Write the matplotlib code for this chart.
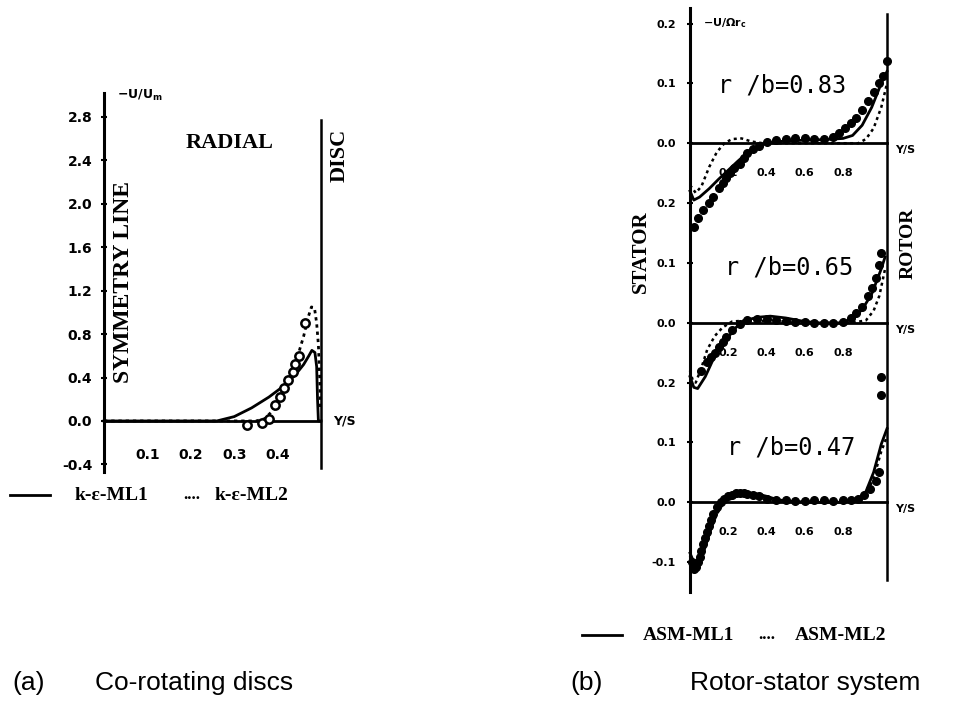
import matplotlib
matplotlib.use("Agg")
import matplotlib.pyplot as plt
from matplotlib.lines import Line2D

# ---- (a) co-rotating discs ----
a_yticks = [-0.4, 0.0, 0.4, 0.8, 1.2, 1.6, 2.0, 2.4, 2.8]
a_ylabels = ["-0.4", "0.0", "0.4", "0.8", "1.2", "1.6", "2.0", "2.4", "2.8"]
a_xticks = [0.1, 0.2, 0.3, 0.4]
a_xlabels = ["0.1", "0.2", "0.3", "0.4"]

a_ml1_x = [0, 0.1, 0.2, 0.26, 0.3, 0.34, 0.38, 0.41, 0.44, 0.46, 0.472, 0.479, 0.486, 0.49, 0.492, 0.494, 0.5]
a_ml1_y = [0, 0, 0, 0.0, 0.04, 0.12, 0.22, 0.31, 0.42, 0.52, 0.6, 0.65, 0.63, 0.5, 0.2, 0.0, 0.0]
a_ml2_x = [0, 0.3, 0.35, 0.37, 0.39, 0.41, 0.43, 0.445, 0.46, 0.47, 0.478, 0.485, 0.49, 0.494, 0.497, 0.499]
a_ml2_y = [0, 0, 0.0, 0.02, 0.1, 0.24, 0.42, 0.58, 0.78, 0.95, 1.05, 1.04, 0.9, 0.7, 0.4, 0.1]
a_exp_x = [0.33, 0.365, 0.38, 0.395, 0.405, 0.415, 0.425, 0.435, 0.44, 0.45, 0.463]
a_exp_y = [-0.04, -0.02, 0.02, 0.15, 0.22, 0.3, 0.38, 0.45, 0.52, 0.6, 0.9]

# ---- (b) rotor-stator system ----
b_radii = ["0.83", "0.65", "0.47"]
b_offsets = [0.6, 0.3, 0.0]
b_yticks = [0.8, 0.7, 0.6, 0.5, 0.4, 0.3, 0.2, 0.1, 0.0, -0.1]
b_ylabels = ["0.2", "0.1", "0.0", "0.2", "0.1", "0.0", "0.2", "0.1", "0.0", "-0.1"]
b_xticks = [0.2, 0.4, 0.6, 0.8]
b_xlabels = ["0.2", "0.4", "0.6", "0.8"]

s83_x = [0, 0.02, 0.05, 0.1, 0.15, 0.2, 0.25, 0.3, 0.35, 0.4, 0.5, 0.6, 0.7, 0.8, 0.85, 0.9, 0.95, 1.0, 1.03]
s83_y = [-0.08, -0.095, -0.09, -0.076, -0.06, -0.045, -0.03, -0.016, -0.006, 0.0, 0.004, 0.005, 0.006, 0.008, 0.013, 0.03, 0.06, 0.1, 0.12]
d83_x = [0, 0.03, 0.06, 0.1, 0.14, 0.18, 0.22, 0.27, 0.32, 0.38, 0.5, 0.7, 0.88, 0.92, 0.96, 1.0, 1.03]
d83_y = [-0.07, -0.083, -0.072, -0.04, -0.015, 0.0, 0.007, 0.008, 0.003, 0.0, 0.0, 0.0, 0.0, 0.007, 0.025, 0.06, 0.1]
p83_x = [0.02, 0.04, 0.07, 0.1, 0.12, 0.15, 0.17, 0.19, 0.21, 0.23, 0.26, 0.28, 0.3, 0.33, 0.36, 0.4, 0.45, 0.5,
         0.55, 0.6, 0.65, 0.7, 0.75, 0.78, 0.81, 0.84, 0.87, 0.9, 0.93, 0.96, 0.99, 1.01, 1.03]
p83_y = [-0.14, -0.125, -0.112, -0.1, -0.09, -0.075, -0.066, -0.058, -0.05, -0.042, -0.034, -0.024, -0.016, -0.01,
         -0.004, 0.002, 0.005, 0.007, 0.008, 0.008, 0.007, 0.007, 0.01, 0.017, 0.025, 0.033, 0.042, 0.055, 0.07,
         0.085, 0.1, 0.113, 0.138]

s65_x = [0, 0.02, 0.04, 0.08, 0.12, 0.16, 0.2, 0.24, 0.28, 0.35, 0.42, 0.5, 0.6, 0.7, 0.8, 0.86, 0.9, 0.95, 1.0, 1.02]
s65_y = [-0.09, -0.108, -0.11, -0.09, -0.062, -0.04, -0.024, -0.008, 0.003, 0.009, 0.011, 0.008, 0.002, -0.001, 0.0,
         0.01, 0.022, 0.048, 0.09, 0.11]
d65_x = [0, 0.015, 0.03, 0.06, 0.09, 0.13, 0.17, 0.22, 0.3, 0.4, 0.5, 0.7, 0.85, 0.92, 0.96, 0.99, 1.02]
d65_y = [-0.08, -0.097, -0.1, -0.075, -0.045, -0.022, -0.008, 0.002, 0.004, 0.003, 0.002, 0.0, 0.0, 0.004, 0.02,
         0.045, 0.09]
p65_x = [0.06, 0.09, 0.11, 0.13, 0.15, 0.17, 0.19, 0.22, 0.26, 0.3, 0.35, 0.4, 0.45, 0.5, 0.55, 0.6, 0.65, 0.7,
         0.75, 0.8, 0.84, 0.87, 0.9, 0.93, 0.95, 0.97, 0.99, 1.0]
p65_y = [-0.08, -0.066, -0.058, -0.05, -0.04, -0.032, -0.024, -0.012, -0.002, 0.004, 0.006, 0.006, 0.004, 0.003,
         0.002, 0.001, 0.0, 0.0, 0.0, 0.002, 0.008, 0.016, 0.026, 0.045, 0.058, 0.075, 0.097, 0.117]

s47_x = [0, 0.02, 0.04, 0.07, 0.1, 0.13, 0.16, 0.2, 0.25, 0.3, 0.35, 0.4, 0.45, 0.5, 0.6, 0.7, 0.8, 0.88, 0.92,
         0.96, 1.0, 1.03]
s47_y = [-0.085, -0.1, -0.098, -0.075, -0.045, -0.02, -0.003, 0.008, 0.014, 0.016, 0.014, 0.01, 0.005, 0.002, 0.0,
         0.0, 0.0, 0.005, 0.018, 0.05, 0.097, 0.123]
d47_x = [0, 0.02, 0.05, 0.08, 0.11, 0.14, 0.17, 0.22, 0.28, 0.34, 0.4, 0.5, 0.7, 0.86, 0.92, 0.96, 1.0, 1.03]
d47_y = [-0.09, -0.108, -0.102, -0.075, -0.045, -0.02, -0.004, 0.007, 0.013, 0.012, 0.008, 0.002, 0.0, 0.002,
         0.012, 0.04, 0.085, 0.11]
p47_x = [0.01, 0.02, 0.03, 0.04, 0.05, 0.06, 0.07, 0.08, 0.09, 0.1, 0.11, 0.12, 0.14, 0.16, 0.18, 0.2, 0.22, 0.24,
         0.26, 0.28, 0.3, 0.33, 0.36, 0.4, 0.45, 0.5, 0.55, 0.6, 0.65, 0.7, 0.75, 0.8, 0.84, 0.88, 0.91, 0.94,
         0.97, 0.99, 1.0, 1.0]
p47_y = [-0.1, -0.112, -0.108, -0.1, -0.092, -0.082, -0.07, -0.06, -0.05, -0.04, -0.03, -0.02, -0.008, 0.0, 0.006,
         0.01, 0.012, 0.015, 0.016, 0.015, 0.013, 0.012, 0.01, 0.006, 0.004, 0.003, 0.002, 0.002, 0.003, 0.003,
         0.002, 0.003, 0.004, 0.006, 0.012, 0.022, 0.035, 0.05, 0.18, 0.21]

b_solid = [(s83_x, s83_y), (s65_x, s65_y), (s47_x, s47_y)]
b_dot = [(d83_x, d83_y), (d65_x, d65_y), (d47_x, d47_y)]
b_exp = [(p83_x, p83_y), (p65_x, p65_y), (p47_x, p47_y)]

serif = "Liberation Serif"
dotted = (0, (1.2, 1.4))

fig = plt.figure(figsize=(9.64, 7.16), dpi=100)

# ----- panel (a) -----
ax = fig.add_axes([104 / 964, 1 - 472 / 716, 217 / 964, 379 / 716])
ax.set_xlim(0, 0.5)
ax.set_ylim(-0.47, 3.02)
for s in ["top", "right", "bottom"]:
    ax.spines[s].set_visible(False)
ax.spines["left"].set_linewidth(2.2)
ax.set_xticks([])
ax.set_yticks(a_yticks)
ax.set_yticklabels(a_ylabels, fontsize=10, fontweight="bold")
ax.tick_params(axis="y", direction="inout", length=5, width=1.5, pad=6)

ax.plot([0, 0.5], [0, 0], color="black", lw=2.0)
ax.plot([0.5, 0.5], [-0.43, 2.77], color="black", lw=1.8, clip_on=False)
ax.plot(a_ml1_x, a_ml1_y, color="black", lw=2.0, clip_on=False)
ax.plot(a_ml2_x, a_ml2_y, color="black", lw=2.0, ls=dotted, clip_on=False)
ax.plot(a_exp_x, a_exp_y, ls="none", marker="o", ms=6, mfc="white", mec="black", mew=1.8)

for xv, lab in zip(a_xticks, a_xlabels):
    ax.text(xv, -0.31, lab, ha="center", va="center", fontsize=10, fontweight="bold")
ax.text(0.528, 0.0, "Y/S", ha="left", va="center", fontsize=9, fontweight="bold", clip_on=False)
ax.text(0.03, 3.0, r"$\mathbf{-U/U_m}$", ha="left", va="center", fontsize=9)
ax.text(0.29, 2.56, "RADIAL", ha="center", va="center", fontsize=16, fontweight="bold", family=serif)
ax.text(0.044, 1.28, "SYMMETRY LINE", rotation=90, ha="center", va="center", fontsize=17,
        fontweight="bold", family=serif)
ax.text(0.544, 2.45, "DISC", rotation=90, ha="center", va="center", fontsize=16,
        fontweight="bold", family=serif, clip_on=False)

# ----- panel (b) -----
bx = fig.add_axes([690 / 964, 1 - 592 / 716, 197 / 964, 584 / 716])
bx.set_xlim(0, 1.03)
bx.set_ylim(-0.150, 0.826)
for s in ["top", "right", "bottom"]:
    bx.spines[s].set_visible(False)
bx.spines["left"].set_linewidth(2.2)
bx.set_xticks([])
bx.set_yticks(b_yticks)
bx.set_yticklabels(b_ylabels, fontsize=8, fontweight="bold")
bx.tick_params(axis="y", direction="inout", length=4, width=1.5, pad=8)

bx.plot([1.03, 1.03], [-0.130, 0.816], color="black", lw=1.8, clip_on=False)
for off, rad, (sx, sy), (dx, dy), (px, py) in zip(b_offsets, b_radii, b_solid, b_dot, b_exp):
    bx.plot([0, 1.03], [off, off], color="black", lw=2.0, clip_on=False)
    bx.plot(sx, [v + off for v in sy], color="black", lw=2.0, clip_on=False)
    bx.plot(dx, [v + off for v in dy], color="black", lw=1.8, ls=dotted, clip_on=False)
    bx.plot(px, [v + off for v in py], ls="none", marker="o", ms=5.5, color="black", clip_on=False)
    for xv, lab in zip(b_xticks, b_xlabels):
        bx.text(xv, off - 0.05, lab, ha="center", va="center", fontsize=8, fontweight="bold")
    bx.text(1.07, off - 0.012, "Y/S", ha="left", va="center", fontsize=8, fontweight="bold", clip_on=False)

rb_font = dict(ha="center", va="center", fontsize=17, family="DejaVu Sans Mono")
bx.text(0.48, 0.697, "r /b=0.83", **rb_font)
bx.text(0.52, 0.393, "r /b=0.65", **rb_font)
bx.text(0.53, 0.092, "r /b=0.47", **rb_font)
bx.text(0.07, 0.80, r"$\mathbf{-U/\Omega r_c}$", ha="left", va="center", fontsize=8)
bx.text(-0.256, 0.418, "STATOR", rotation=90, ha="center", va="center", fontsize=15,
        fontweight="bold", family=serif, clip_on=False)
bx.text(1.14, 0.433, "ROTOR", rotation=90, ha="center", va="center", fontsize=14,
        fontweight="bold", family=serif, clip_on=False)

# ----- legends -----
def legend_row(y_px, x_line, x_t1, x_dots, x_t2, lab1, lab2):
    yf = 1 - y_px / 716
    fig.add_artist(Line2D([x_line[0] / 964, x_line[1] / 964], [yf, yf], color="black", lw=2.0))
    fig.text(x_t1 / 964, yf, lab1, ha="left", va="center", fontsize=14, fontweight="bold", family=serif)
    fig.text(x_dots / 964, yf, "....", ha="left", va="center", fontsize=12, fontweight="bold", family=serif)
    fig.text(x_t2 / 964, yf, lab2, ha="left", va="center", fontsize=14, fontweight="bold", family=serif)

legend_row(495, (10, 50), 75, 183, 215, "k-\u03b5-ML1", "k-\u03b5-ML2")
legend_row(635, (582, 622), 643, 758, 795, "ASM-ML1", "ASM-ML2")

# ----- captions -----
cap = dict(va="center", fontsize=19, family="Liberation Sans", ha="left")
fig.text(12 / 964, 1 - 683 / 716, "(a)", **cap)
fig.text(95 / 964, 1 - 683 / 716, "Co-rotating discs", **cap)
fig.text(570 / 964, 1 - 683 / 716, "(b)", **cap)
fig.text(690 / 964, 1 - 683 / 716, "Rotor-stator system", **cap)

fig.savefig("out.png", dpi=100)
